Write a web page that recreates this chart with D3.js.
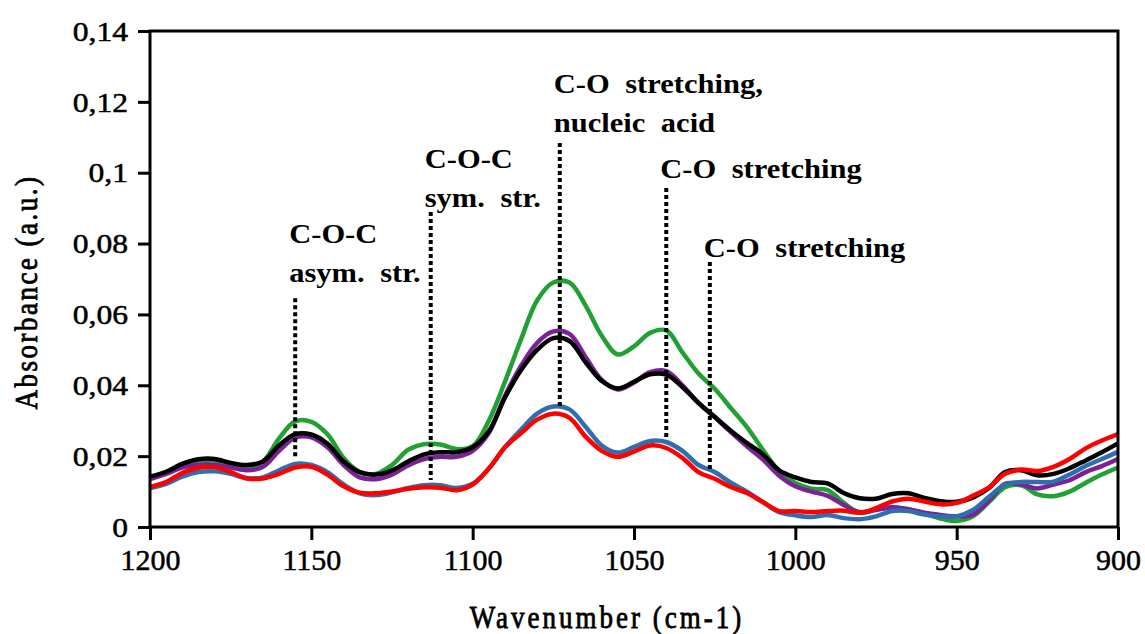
<html lang="en">
  <head>
    <meta charset="UTF-8" />
    <title>FTIR spectra</title>
    <style>
      body { margin: 0; background: #fff; }
    </style>
  </head>
  <body>
    <div class="chart"></div>

    <script src="https://cdn.jsdelivr.net/npm/d3@7"></script>
    <script>

        // wavenumbers, 1200 -> 900 every 5 cm-1
        const wavenumbers = d3.range(1200, 899, -5);

        const green = [0.0140,0.0155,0.0178,0.0188,0.0188,0.0176,0.0168,0.0185,0.0250,0.0298,
            0.0297,0.0262,0.0195,0.0155,0.0150,0.0175,0.0218,0.0234,0.0233,0.0220,
            0.0228,0.0300,0.0410,0.0530,0.0640,0.0690,0.0690,0.0625,0.0540,0.0487,
            0.0510,0.0548,0.0555,0.0493,0.0433,0.0390,0.0336,0.0282,0.0217,0.0157,
            0.0124,0.0108,0.0104,0.0068,0.0040,0.0050,0.0056,0.0050,0.0038,0.0024,
            0.0017,0.0030,0.0070,0.0112,0.0118,0.0092,0.0087,0.0100,0.0125,0.0148,0.0168];

        const purple = [0.0135,0.0150,0.0168,0.0176,0.0176,0.0168,0.0160,0.0170,0.0215,0.0252,
            0.0253,0.0225,0.0175,0.0140,0.0135,0.0148,0.0174,0.0192,0.0198,0.0198,
            0.0215,0.0265,0.0370,0.0455,0.0520,0.0552,0.0545,0.0480,0.0415,0.0388,
            0.0408,0.0437,0.0440,0.0400,0.0350,0.0310,0.0268,0.0228,0.0190,0.0145,
            0.0115,0.0100,0.0088,0.0062,0.0042,0.0048,0.0056,0.0050,0.0040,0.0034,
            0.0030,0.0035,0.0075,0.0122,0.0120,0.0109,0.0120,0.0132,0.0155,0.0172,0.0192];

        const black = [0.0142,0.0156,0.0178,0.0191,0.0192,0.0181,0.0175,0.0185,0.0230,0.0262,
            0.0261,0.0235,0.0185,0.0155,0.0148,0.0160,0.0185,0.0205,0.0211,0.0211,
            0.0225,0.0270,0.0365,0.0443,0.0500,0.0533,0.0525,0.0465,0.0412,0.0391,
            0.0410,0.0431,0.0430,0.0395,0.0350,0.0311,0.0272,0.0237,0.0205,0.0160,
            0.0140,0.0127,0.0123,0.0096,0.0081,0.0080,0.0093,0.0095,0.0082,0.0073,
            0.0071,0.0083,0.0110,0.0155,0.0160,0.0146,0.0150,0.0166,0.0188,0.0211,0.0236];

        const blue = [0.0110,0.0122,0.0142,0.0155,0.0157,0.0150,0.0138,0.0140,0.0160,0.0178,
            0.0175,0.0155,0.0120,0.0095,0.0090,0.0098,0.0110,0.0118,0.0118,0.0110,
            0.0122,0.0165,0.0225,0.0275,0.0320,0.0340,0.0332,0.0283,0.0230,0.0210,
            0.0226,0.0243,0.0240,0.0215,0.0175,0.0155,0.0125,0.0100,0.0070,0.0042,
            0.0033,0.0028,0.0034,0.0025,0.0022,0.0030,0.0045,0.0045,0.0035,0.0030,
            0.0030,0.0048,0.0085,0.0120,0.0127,0.0127,0.0128,0.0148,0.0172,0.0192,0.0212];

        const red = [0.0113,0.0127,0.0152,0.0167,0.0169,0.0155,0.0137,0.0137,0.0150,0.0168,
            0.0170,0.0148,0.0115,0.0097,0.0095,0.0100,0.0108,0.0112,0.0111,0.0104,
            0.0120,0.0165,0.0225,0.0265,0.0303,0.0320,0.0308,0.0255,0.0215,0.0198,
            0.0213,0.0230,0.0223,0.0195,0.0155,0.0136,0.0113,0.0096,0.0070,0.0045,
            0.0045,0.0042,0.0045,0.0046,0.0040,0.0053,0.0072,0.0080,0.0072,0.0064,
            0.0068,0.0088,0.0112,0.0150,0.0162,0.0158,0.0170,0.0192,0.0222,0.0244,0.0262];

        const seriesList = [green, purple, blue, black, red];
        const seriesColors = ["#21a133", "#7a2296", "#2f6fb0", "#000000", "#ff0000"];

        const xTicks = [1200, 1150, 1100, 1050, 1000, 950, 900];
        const yTicks = [0, 0.02, 0.04, 0.06, 0.08, 0.1, 0.12, 0.14];

        // band annotations
        const bandWave = [1155, 1113, 1073, 1040, 1026.5];
        const bandLabels = [["C-O-C", "asym. str."], ["C-O-C", "sym. str."],
            ["C-O stretching,", "nucleic acid"], ["C-O stretching"], ["C-O stretching"]];
        const bandLabelY = [0.0802, 0.1013, 0.1225, 0.0985, 0.0762];
        const bandLineTop = [0.0646, 0.0889, 0.1084, 0.0957, 0.0748];
        const bandLineBottom = [0.0198, 0.0133, 0.0339, 0.0251, 0.0155];

        const FONT = "Liberation Serif";

        let width = 1145;
        let height = 634;
        let margin = {top: 31, right: 27, bottom: 107, left: 150};

        let svg = d3.select(".chart")
            .append("svg")
            .attr("width", width)
            .attr("height", height)
            .attr("font-family", FONT);

        const x = d3.scaleLinear().domain([1200, 900]).range([margin.left, width - margin.right]);
        const y = d3.scaleLinear().domain([0, 0.14]).range([height - margin.bottom, margin.top]);

        const comma = d3.formatLocale({decimal: ",", thousands: ".", grouping: [3], currency: ["", ""]});
        const yFmt = v => comma.format("~g")(v);

        // lines
        const line = d3.line()
            .x((d, i) => x(wavenumbers[i]))
            .y(d => y(d))
            .curve(d3.curveCatmullRom.alpha(0.5));

        svg.selectAll(".spectrum")
            .data(seriesList)
            .enter()
            .append("path")
            .attr("class", "spectrum")
            .attr("d", line)
            .style("fill", "none")
            .style("stroke", (d, i) => seriesColors[i])
            .style("stroke-width", 4.5)
            .style("stroke-linejoin", "round");

        // dotted band markers
        svg.selectAll(".band")
            .data(bandWave)
            .enter()
            .append("line")
            .attr("class", "band")
            .attr("x1", d => x(d))
            .attr("x2", d => x(d))
            .attr("y1", (d, i) => y(bandLineTop[i]))
            .attr("y2", (d, i) => y(bandLineBottom[i]))
            .style("stroke", "#000")
            .style("stroke-width", 4)
            .style("stroke-dasharray", "4,3");

        const labels = svg.selectAll(".band-label")
            .data(bandLabels)
            .enter()
            .append("text")
            .attr("class", "band-label")
            .attr("x", (d, i) => x(bandWave[i]) - 6)
            .attr("y", (d, i) => y(bandLabelY[i]))
            .style("font-family", FONT)
            .style("font-weight", "bold")
            .style("font-size", "27px")
            .style("word-spacing", "7px");

        labels.selectAll("tspan")
            .data(d => d)
            .enter()
            .append("tspan")
            .attr("x", function () { return this.parentNode.getAttribute("x"); })
            .attr("dy", (d, i) => i === 0 ? 0 : 39)
            .text(d => d);

        // axes
        const xAxis = svg.append("g")
            .attr("transform", `translate(0,${height - margin.bottom})`)
            .call(d3.axisBottom(x).tickValues(xTicks).tickSize(13).tickSizeOuter(0).tickPadding(9).tickFormat(d3.format("d")));
        xAxis.attr("font-family", FONT);
        xAxis.selectAll("text").style("font-size", "30px");

        const yAxis = svg.append("g")
            .attr("transform", `translate(${margin.left},0)`)
            .call(d3.axisLeft(y).tickValues(yTicks).tickSize(12).tickSizeOuter(0).tickPadding(10).tickFormat(yFmt));
        yAxis.attr("font-family", FONT);
        yAxis.selectAll("text").style("font-size", "27px").attr("dy", "0.34em");

        svg.selectAll(".tick text")
            .style("font-family", FONT)
            .style("stroke", "#000")
            .style("stroke-width", 0.5);
        svg.selectAll(".tick line").style("stroke", "#000").style("stroke-width", 3);
        svg.selectAll(".domain").remove();

        // frame
        svg.append("rect")
            .attr("x", margin.left)
            .attr("y", margin.top)
            .attr("width", width - margin.left - margin.right)
            .attr("height", height - margin.top - margin.bottom)
            .style("fill", "none")
            .style("stroke", "#000")
            .style("stroke-width", 3);

        // axis titles (tall, letter-spaced)
        svg.append("text")
            .attr("transform", "translate(36.5,292) rotate(-90) scale(1,1.2)")
            .attr("text-anchor", "middle")
            .style("font-family", FONT)
            .style("font-size", "27px")
            .style("letter-spacing", "2.5px")
            .style("stroke", "#000")
            .style("stroke-width", 0.7)
            .text("Absorbance (a.u.)");

        svg.append("text")
            .attr("transform", "translate(607,628) scale(1,1.2)")
            .attr("text-anchor", "middle")
            .style("font-family", FONT)
            .style("font-size", "27px")
            .style("letter-spacing", "3px")
            .style("stroke", "#000")
            .style("stroke-width", 0.7)
            .text("Wavenumber (cm-1)");

        // the source picture is a bit wider than plain Times
        function stretch(sel, k) {
            sel.each(function () {
                const w = this.getComputedTextLength();
                d3.select(this).attr("textLength", w * k).attr("lengthAdjust", "spacingAndGlyphs");
            });
        }
        stretch(yAxis.selectAll("text"), 1.17);
        stretch(labels.selectAll("tspan"), 1.13);

    </script>
  </body>
</html>
